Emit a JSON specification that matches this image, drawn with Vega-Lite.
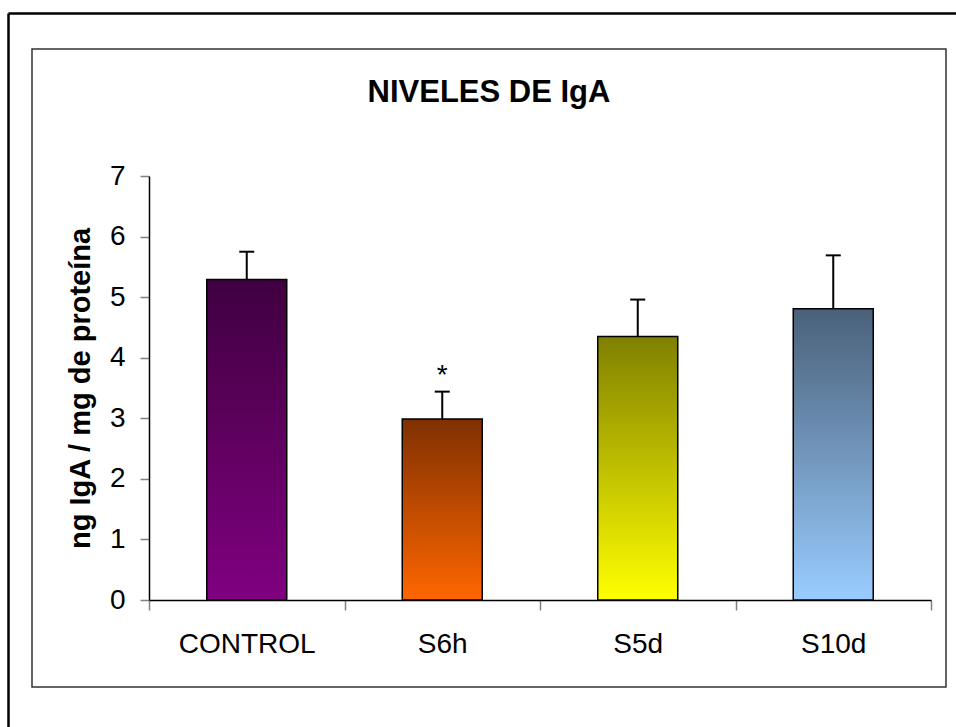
{
  "$schema": "https://vega.github.io/schema/vega-lite/v6.json",
  "width": 914,
  "height": 638,
  "autosize": {"type": "none"},
  "padding": {"left": 32, "top": 49, "right": 10, "bottom": 40},
  "background": "white",
  "title": {"text": "NIVELES DE IgA", "fontSize": 31, "fontWeight": "bold", "font": "Liberation Sans", "color": "black", "anchor": "middle", "frame": "group", "baseline": "alphabetic", "offset": -120},
  "config": {"view": {"stroke": "#333333", "strokeWidth": 1.5}, "font": "Liberation Sans"},
  "data": {"values": [
    {"grupo": "CONTROL", "media": 5.29, "sup": 5.75, "sig": ""},
    {"grupo": "S6h", "media": 2.99, "sup": 3.44, "sig": "*"},
    {"grupo": "S5d", "media": 4.35, "sup": 4.96, "sig": ""},
    {"grupo": "S10d", "media": 4.81, "sup": 5.69, "sig": ""}
  ]},
  "layer": [
    {
      "mark": {"type": "point", "opacity": 0},
      "encoding": {
        "x": {"field": "media", "type": "quantitative", "scale": {"domain": [0, 10], "range": [-24, 1200], "nice": false, "zero": false},
              "axis": {"orient": "top", "offset": 36, "domain": true, "domainColor": "black", "domainWidth": 2.5, "ticks": false, "labels": false, "grid": false, "title": null}},
        "y": {"field": "media", "type": "quantitative", "scale": {"domain": [0, 10], "range": [1200, -36], "nice": false, "zero": false},
              "axis": {"orient": "left", "offset": 24, "domain": true, "domainColor": "black", "domainWidth": 2.5, "ticks": false, "labels": false, "grid": false, "title": null}}
      }
    },
    {
      "encoding": {
        "x": {"field": "grupo", "type": "nominal", "sort": null,
              "scale": {"domain": ["CONTROL", "S6h", "S5d", "S10d"], "range": [117, 899], "paddingInner": 0, "paddingOuter": 0},
              "axis": {"orient": "bottom", "offset": -87, "tickBand": "extent", "tickSize": 10, "tickColor": "#808080", "tickWidth": 1.5, "domainColor": "black", "domainWidth": 1.5, "labelFontSize": 28, "labelFont": "Liberation Sans", "labelColor": "black", "labelPadding": 20, "labelAngle": 0, "title": null, "grid": false}},
        "y": {"field": "media", "type": "quantitative",
              "scale": {"domain": [0, 7], "range": [551, 127], "nice": false, "zero": true},
              "axis": {"orient": "left", "offset": -117, "values": [0, 1, 2, 3, 4, 5, 6, 7], "tickSize": 9, "tickColor": "#808080", "tickWidth": 1.5, "domainColor": "black", "domainWidth": 1.5, "labelFontSize": 28, "labelFont": "Liberation Sans", "labelColor": "black", "labelPadding": 15, "grid": false,
                       "title": "ng IgA / mg de proteína", "titleFontSize": 29, "titleFontWeight": "bold", "titleFont": "Liberation Sans", "titleColor": "black", "titlePadding": 14}}
      },
      "layer": [
        {"transform": [{"filter": "datum.grupo === 'CONTROL'"}],
         "mark": {"type": "bar", "width": 80, "stroke": "black", "strokeWidth": 1.5,
                  "fill": {"gradient": "linear", "x1": 0, "y1": 0, "x2": 0, "y2": 1, "stops": [{"offset": 0, "color": "#400040"}, {"offset": 1, "color": "#800080"}]}}},
        {"transform": [{"filter": "datum.grupo === 'S6h'"}],
         "mark": {"type": "bar", "width": 80, "stroke": "black", "strokeWidth": 1.5,
                  "fill": {"gradient": "linear", "x1": 0, "y1": 0, "x2": 0, "y2": 1, "stops": [{"offset": 0, "color": "#7f3000"}, {"offset": 1, "color": "#ff6600"}]}}},
        {"transform": [{"filter": "datum.grupo === 'S5d'"}],
         "mark": {"type": "bar", "width": 80, "stroke": "black", "strokeWidth": 1.5,
                  "fill": {"gradient": "linear", "x1": 0, "y1": 0, "x2": 0, "y2": 1, "stops": [{"offset": 0, "color": "#808000"}, {"offset": 1, "color": "#ffff00"}]}}},
        {"transform": [{"filter": "datum.grupo === 'S10d'"}],
         "mark": {"type": "bar", "width": 80, "stroke": "black", "strokeWidth": 1.5,
                  "fill": {"gradient": "linear", "x1": 0, "y1": 0, "x2": 0, "y2": 1, "stops": [{"offset": 0, "color": "#4a6079"}, {"offset": 1, "color": "#99ccff"}]}}},
        {"mark": {"type": "rule", "stroke": "black", "strokeWidth": 2},
         "encoding": {"y2": {"field": "sup"}}},
        {"mark": {"type": "tick", "color": "black", "thickness": 2, "size": 15, "opacity": 1},
         "encoding": {"y": {"field": "sup", "type": "quantitative", "scale": {"domain": [0, 7], "range": [551, 127], "nice": false, "zero": true},
              "axis": {"orient": "left", "offset": -117, "values": [0, 1, 2, 3, 4, 5, 6, 7], "tickSize": 9, "tickColor": "#808080", "tickWidth": 1.5, "domainColor": "black", "domainWidth": 1.5, "labelFontSize": 28, "labelFont": "Liberation Sans", "labelColor": "black", "labelPadding": 15, "grid": false,
                       "title": "ng IgA / mg de proteína", "titleFontSize": 29, "titleFontWeight": "bold", "titleFont": "Liberation Sans", "titleColor": "black", "titlePadding": 14}}}},
        {"mark": {"type": "text", "fontSize": 28, "font": "Liberation Sans", "baseline": "alphabetic", "dy": -8, "color": "black"},
         "encoding": {"y": {"field": "sup", "type": "quantitative", "scale": {"domain": [0, 7], "range": [551, 127], "nice": false, "zero": true},
              "axis": {"orient": "left", "offset": -117, "values": [0, 1, 2, 3, 4, 5, 6, 7], "tickSize": 9, "tickColor": "#808080", "tickWidth": 1.5, "domainColor": "black", "domainWidth": 1.5, "labelFontSize": 28, "labelFont": "Liberation Sans", "labelColor": "black", "labelPadding": 15, "grid": false,
                       "title": "ng IgA / mg de proteína", "titleFontSize": 29, "titleFontWeight": "bold", "titleFont": "Liberation Sans", "titleColor": "black", "titlePadding": 14}},
                      "text": {"field": "sig"}}}
      ]
    }
  ],
  "resolve": {"scale": {"x": "independent", "y": "independent"}, "axis": {"x": "independent", "y": "independent"}}
}
